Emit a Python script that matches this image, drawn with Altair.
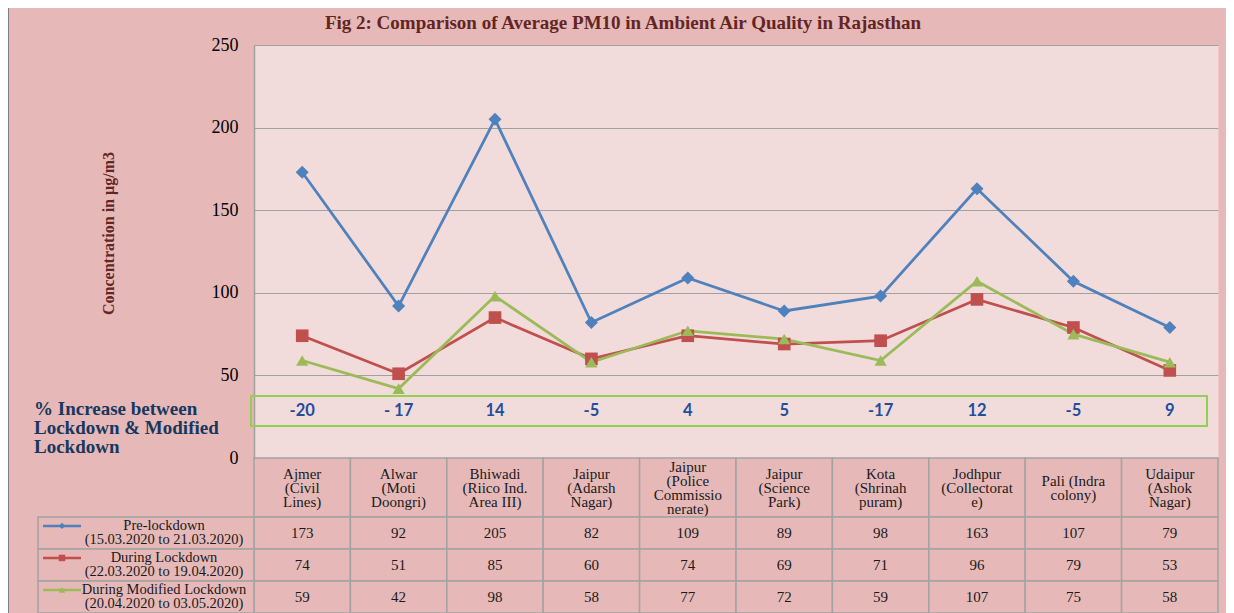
import altair as alt
import pandas as pd

# ---------------- data ----------------
site_labels = [
    "Ajmer\n(Civil\nLines)",
    "Alwar\n(Moti\nDoongri)",
    "Bhiwadi\n(Riico Ind.\nArea III)",
    "Jaipur\n(Adarsh\nNagar)",
    "Jaipur\n(Police\nCommissio\nnerate)",
    "Jaipur\n(Science\nPark)",
    "Kota\n(Shrinah\npuram)",
    "Jodhpur\n(Collectorat\ne)",
    "Pali (Indra\ncolony)",
    "Udaipur\n(Ashok\nNagar)",
]
series = ["Pre-lockdown", "During Lockdown", "During Modified Lockdown"]
series_labels = [
    "Pre-lockdown\n(15.03.2020 to 21.03.2020)",
    "During Lockdown\n(22.03.2020 to 19.04.2020)",
    "During Modified Lockdown\n(20.04.2020 to 03.05.2020)",
]
pre_lockdown = [173, 92, 205, 82, 109, 89, 98, 163, 107, 79]
during_lockdown = [74, 51, 85, 60, 74, 69, 71, 96, 79, 53]
modified_lockdown = [59, 42, 98, 58, 77, 72, 59, 107, 75, 58]
pct_increase = ["-20", "- 17", "14", "-5", "4", "5", "-17", "12", "-5", "9"]
y_ticks = [0, 50, 100, 150, 200, 250]

colors = ["#4F81BD", "#C0504D", "#9BBB59"]
shapes = ["diamond", "square", "triangle-up"]

title_text = "Fig 2: Comparison of Average PM10 in Ambient Air Quality in Rajasthan"
y_title = "Concentration in µg/m3"
pct_title = "% Increase between\nLockdown & Modified\nLockdown"

# ---------------- tables ----------------
rows = []
for ser, vals in zip(series, [pre_lockdown, during_lockdown, modified_lockdown]):
    for s, v in zip(site_labels, vals):
        rows.append({"site": s, "series": ser, "value": v})
df_long = pd.DataFrame(rows)
df_pct = pd.DataFrame({"site": site_labels, "pct": pct_increase})
df_sites = pd.DataFrame({"site": site_labels})
df_rows = pd.DataFrame({"series": series, "label": series_labels})
one = pd.DataFrame({"k": [0]})

# ---------------- styles ----------------
BG = "#E6B9B8"
PLOT_BG = "#F2DCDB"
GRID = "#A0A0A0"
TABLE_LINE = "#A3A3A3"
MAROON = "#632523"
SERIF = "Liberation Serif"

W, H = 964, 413
HDR_LH = 14

x_band = alt.Scale(type="band", domain=site_labels, paddingInner=0, paddingOuter=0)
X_cell = alt.X("site:N", scale=x_band, axis=None)
X_mid = alt.X("site:N", scale=x_band, axis=None, bandPosition=0.5)

row_scale = alt.Scale(type="band", domain=series, range=[472, 568], paddingInner=0, paddingOuter=0)
Y_row = alt.Y("series:N", scale=row_scale, axis=None)
Y_row_top = alt.Y("series:N", scale=row_scale, axis=None, bandPosition=0.28)

# first-line position of a centred multi-line header label, by its line count
hdr_scale = alt.Scale(domain=[1, 4], range=[443, 443 - 1.5 * HDR_LH], zero=False, nice=False)

color_enc = alt.Color("series:N", scale=alt.Scale(domain=series, range=colors), legend=None)
shape_enc = alt.Shape("series:N", scale=alt.Scale(domain=series, range=shapes), legend=None)

y_main = alt.Scale(domain=[0, 250], nice=False, zero=True)

# ---------------- layers ----------------
lines = alt.Chart(df_long).mark_line(strokeWidth=2.75).encode(
    x=X_mid,
    y=alt.Y("value:Q", scale=y_main, axis=alt.Axis(
        values=y_ticks, grid=True, gridColor=GRID, gridWidth=1,
        domain=True, domainColor=GRID, domainWidth=1.5, ticks=False,
        labelFont=SERIF, labelFontSize=18, labelColor="black", labelPadding=16,
        title=y_title, titleFont=SERIF, titleFontSize=16, titleFontWeight="bold",
        titleColor=MAROON, titleAngle=270, titleX=-146, titleY=188,
        titleAlign="center", titleBaseline="middle")),
    color=color_enc,
    detail="series:N",
)

points = alt.Chart(df_long).mark_point(filled=True, opacity=1).encode(
    x=X_mid,
    y=alt.Y("value:Q", scale=y_main, axis=None),
    color=color_enc,
    shape=shape_enc,
    size=alt.Size("series:N", scale=alt.Scale(domain=series, range=[170, 150, 170]), legend=None),
)

pct_box = alt.Chart(one).mark_rect(filled=False, stroke="#92D050", strokeWidth=2).encode(
    x=alt.value(-3), x2=alt.value(953), y=alt.value(351), y2=alt.value(381)
)

pct_text = alt.Chart(df_pct).mark_text(
    font="Lato", fontSize=16.5, fontWeight="bold", color="#1F4E9C", baseline="middle"
).encode(x=X_mid, y=alt.value(366), text="pct:N")

pct_label = alt.Chart(one).mark_text(
    font=SERIF, fontSize=19, fontWeight="bold", color="#17375E",
    align="left", baseline="middle", lineBreak="\n", lineHeight=19
).encode(x=alt.value(-220), y=alt.value(364), text=alt.value(pct_title))

title = alt.Chart(one).mark_text(
    font=SERIF, fontSize=19, fontWeight="bold", color=MAROON,
    align="center", baseline="alphabetic"
).encode(x=alt.value(369), y=alt.value(-16), text=alt.value(title_text))

header_cells = alt.Chart(df_sites).mark_rect(
    fill=BG, stroke=TABLE_LINE, strokeWidth=1.5
).encode(x=X_cell, y=alt.value(413), y2=alt.value(472))

header_text = alt.Chart(df_sites).transform_calculate(
    nlines="length(split(datum.site, '\\n'))"
).mark_text(
    font=SERIF, fontSize=15, color="#1A1A1A", baseline="middle",
    lineBreak="\n", lineHeight=HDR_LH
).encode(
    x=X_mid,
    y=alt.Y("nlines:Q", scale=hdr_scale, axis=None),
    text="site:N",
)

body_cells = alt.Chart(df_long).mark_rect(
    fill=BG, stroke=TABLE_LINE, strokeWidth=1.5
).encode(x=X_cell, y=Y_row)

body_text = alt.Chart(df_long).mark_text(
    font=SERIF, fontSize=15, color="#1A1A1A", baseline="middle"
).encode(x=X_mid, y=Y_row, text=alt.Text("value:Q", format="d"))

legend_cells = alt.Chart(df_rows).mark_rect(
    fill=BG, stroke=TABLE_LINE, strokeWidth=1.5
).encode(x=alt.value(-216), x2=alt.value(0), y=Y_row)

legend_text = alt.Chart(df_rows).mark_text(
    font=SERIF, fontSize=14.5, color="#1A1A1A", baseline="middle", align="center",
    lineBreak="\n", lineHeight=14
).encode(x=alt.value(-90), y=Y_row_top, text="label:N")

legend_lines = alt.Chart(df_rows).mark_rule(strokeWidth=2.5).encode(
    x=alt.value(-211), x2=alt.value(-173), y=Y_row_top, color=color_enc
)

legend_marks = alt.Chart(df_rows).mark_point(filled=True, opacity=1).encode(
    x=alt.value(-192), y=Y_row_top, color=color_enc, shape=shape_enc,
    size=alt.Size("series:N", scale=alt.Scale(domain=series, range=[40, 45, 50]), legend=None),
)

frame_left = alt.Chart(one).mark_rule(color="#7F7F7F", strokeWidth=2).encode(
    x=alt.value(-246), y=alt.value(-37), y2=alt.value(568)
)

chart = alt.layer(
    lines, points, pct_box, pct_text, pct_label, title,
    header_cells, header_text, body_cells, body_text,
    legend_cells, legend_text, legend_lines, legend_marks, frame_left,
).resolve_scale(
    y="independent", size="independent"
).properties(
    width=W, height=H,
    autosize=alt.AutoSizeParams(type="none"),
    padding={"left": 246, "top": 37, "right": 8, "bottom": 155},
    background=BG,
).configure_view(
    fill=PLOT_BG, stroke="transparent"
)

chart.save("out.html", embed_options={"renderer": "svg", "actions": False})
